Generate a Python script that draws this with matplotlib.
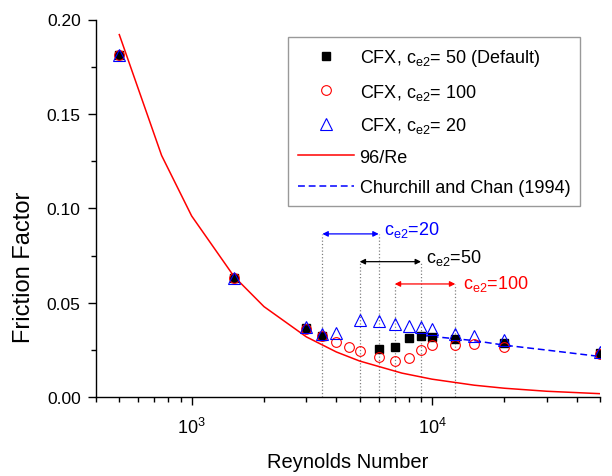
import numpy as np
import matplotlib
matplotlib.use('Agg')
import matplotlib.pyplot as plt
from matplotlib.ticker import LogLocator, NullFormatter, MultipleLocator, FormatStrFormatter

plt.rcParams['font.family'] = ['Liberation Sans', 'DejaVu Sans']
plt.rcParams['mathtext.fontset'] = 'custom'
plt.rcParams['mathtext.rm'] = 'Liberation Sans'
plt.rcParams['mathtext.it'] = 'Liberation Sans'
plt.rcParams['mathtext.default'] = 'regular'

# CFX, ce2 = 50 (default)
re_50 = [500, 1500, 3000, 3500, 6000, 7000, 8000, 9000, 10000, 12500, 20000, 50000]
f_50 = [0.181, 0.063, 0.0365, 0.0325, 0.0258, 0.0266, 0.0316, 0.0325, 0.0321, 0.0306, 0.0285, 0.0236]

# CFX, ce2 = 100
re_100 = [500, 1500, 3000, 3500, 4000, 4500, 5000, 6000, 7000, 8000, 9000, 10000, 12500, 15000, 20000, 50000]
f_100 = [0.181, 0.063, 0.0362, 0.0322, 0.0294, 0.0265, 0.0243, 0.0211, 0.0190, 0.0207, 0.0251, 0.0279, 0.0278, 0.0283, 0.0266, 0.0228]

# CFX, ce2 = 20
re_20 = [500, 1500, 3000, 3500, 4000, 5000, 6000, 7000, 8000, 9000, 10000, 12500, 15000, 20000, 50000]
f_20 = [0.181, 0.063, 0.0374, 0.0335, 0.0341, 0.0408, 0.0404, 0.0388, 0.0379, 0.0371, 0.0363, 0.0336, 0.0326, 0.0301, 0.0240]

# 96/Re
re_lam = [500, 750, 1000, 1500, 2000, 3000, 4000, 5000, 7500, 10000, 15000, 20000, 30000, 50000]
f_lam = [0.192, 0.128, 0.096, 0.064, 0.048, 0.032, 0.024, 0.0192, 0.0128, 0.0096, 0.0064, 0.0048, 0.0032, 0.00192]

# Churchill and Chan (1994)
re_cc = [9000, 10000, 12500, 15000, 20000, 30000, 50000]
f_cc = [0.0328, 0.0322, 0.0310, 0.0300, 0.0276, 0.0250, 0.0216]

# transition ranges
ranges = [(3500, 6000, 0.0865, 'blue', 'c$_{e2}$=20', 6300, 0.0865),
          (5000, 9000, 0.0718, 'black', 'c$_{e2}$=50', 9450, 0.0715),
          (7000, 12500, 0.0600, 'red', 'c$_{e2}$=100', 13400, 0.0581)]

fig = plt.figure(figsize=(6.12, 4.77), dpi=100)
ax = fig.add_axes([96/612, 1-398.3/477, 504/612, 377.8/477])

for x0, x1, y, c, lab, tx, ty in ranges:
    ax.plot([x0, x0], [0, y], ':', color='gray', lw=0.9, zorder=1)
    ax.plot([x1, x1], [0, y], ':', color='gray', lw=0.9, zorder=1)
    ax.annotate('', xy=(x1, y), xytext=(x0, y),
                arrowprops=dict(arrowstyle='<|-|>', color=c, lw=0.9,
                                mutation_scale=8, shrinkA=0, shrinkB=0))
    ax.text(tx, ty, lab, color=c, fontsize=13, ha='left', va='baseline')

ax.plot(re_50, f_50, 's', color='black', ms=5.5, lw=0, label='CFX, c$_{e2}$= 50 (Default)', zorder=3)
ax.plot(re_100, f_100, 'o', mfc='none', mec='red', mew=0.8, ms=7, lw=0, label='CFX, c$_{e2}$= 100', zorder=3)
ax.plot(re_20, f_20, '^', mfc='none', mec='blue', mew=0.8, ms=8, lw=0, label='CFX, c$_{e2}$= 20', zorder=4)
ax.plot(re_lam, f_lam, '-', color='red', lw=1.1, label='96/Re', zorder=2)
ax.plot(re_cc, f_cc, '--', color='blue', lw=1.1, dashes=(4.5, 2.5), label='Churchill and Chan (1994)', zorder=2)

ax.set_xscale('log')
ax.set_xlim(400, 50000)
ax.set_ylim(0, 0.20)
ax.yaxis.set_major_locator(MultipleLocator(0.05))
ax.yaxis.set_minor_locator(MultipleLocator(0.025))
ax.yaxis.set_major_formatter(FormatStrFormatter('%.2f'))
ax.xaxis.set_major_locator(LogLocator(base=10, numticks=10))
ax.xaxis.set_minor_locator(LogLocator(base=10, subs=np.arange(2, 10), numticks=10))
ax.xaxis.set_minor_formatter(NullFormatter())

for s in ['top', 'right']:
    ax.spines[s].set_visible(False)
for s in ['left', 'bottom']:
    ax.spines[s].set_linewidth(1.0)
ax.tick_params(which='major', direction='out', length=6, width=1, labelsize=12.5, pad=5)
ax.tick_params(which='minor', direction='out', length=3.5, width=1)
ax.tick_params(axis='x', which='major', pad=8, labelsize=13)

ax.set_xlabel('Reynolds Number', fontsize=14.5, labelpad=11)
ax.set_ylabel('Friction Factor', fontsize=17, va='center')
ax.yaxis.set_label_coords(-0.143, 0.348)

leg = ax.legend(loc='upper left', bbox_to_anchor=(0.3815, 0.953), borderaxespad=0,
                fontsize=13, frameon=True, fancybox=False, handlelength=3.1,
                handletextpad=0.3, borderpad=0.55, labelspacing=0.75)
leg.get_frame().set_edgecolor('gray')
leg.get_frame().set_linewidth(1.0)

fig.savefig('out.png', dpi=100)
